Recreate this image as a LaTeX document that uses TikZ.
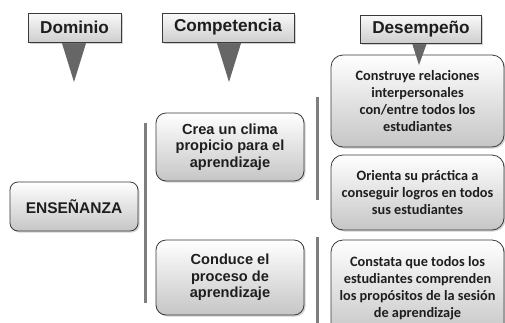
\documentclass[tikz,border=0pt]{standalone}
\usepackage{fontspec}
\setmainfont{Liberation Sans}
\newfontfamily\calib{Carlito}
\usetikzlibrary{shadows}
\definecolor{txt}{HTML}{1E1E1E}
\definecolor{edge}{HTML}{3A3A3A}
\definecolor{trifill}{HTML}{666666}
\definecolor{vline}{HTML}{7E7E7E}
\begin{document}
\begin{tikzpicture}[x=1pt,y=-1pt,
  shad/.style={drop shadow={shadow xshift=1.5pt,shadow yshift=-1.5pt,opacity=0.35}},
  hdr/.style={draw=edge, line width=0.8pt, top color=gray!4, bottom color=gray!38, shad,
    text=txt, inner sep=0pt, font=\bfseries\fontsize{17.2}{19}\selectfont},
  cbox/.style={draw=edge, line width=0.8pt, rounded corners=10pt, top color=white, bottom color=gray!45, shad,
    text=txt, align=center, inner sep=0pt, font=\bfseries\fontsize{14.6}{16.7}\selectfont},
  dbox/.style={draw=edge, line width=0.8pt, rounded corners=12pt, top color=white, bottom color=gray!45, shad,
    text=txt, align=center, inner sep=0pt, minimum width=173pt, font=\calib\bfseries\fontsize{14.3}{17.2}\selectfont},
  tri/.style={fill=trifill},
  vl/.style={draw=vline, line width=3pt}
]
\fill[white] (0,0) rectangle (505,322);
\path[use as bounding box] (0,0) rectangle (505,322);
\clip (0,0) rectangle (505,322);

% vertical bracket lines
\coordinate (l1a) at (145,123); \coordinate (l1b) at (145,303);
\coordinate (l2a) at (317,97);  \coordinate (l2b) at (317,200);
\coordinate (l3a) at (317,237); \coordinate (l3b) at (317,330);
\draw[vl] (l1a) -- (l1b);
\draw[vl] (l2a) -- (l2b);
\draw[vl] (l3a) -- (l3b);

% header triangles (below boxes)
\coordinate (domtip) at (74,82);
\coordinate (comptip) at (229,82);
\coordinate (destip) at (419,65);
\fill[tri] (61,40) -- (87,40) -- (domtip) -- cycle;
\fill[tri] (216,40) -- (242,40) -- (comptip) -- cycle;

% headers
\node[hdr, minimum width=93pt, minimum height=29pt] (dom) at (74.5,27.5) {Dominio};
\node[hdr, minimum width=132pt, minimum height=29pt] (comp) at (228,27.5) {Competencia};

% competence boxes
\node[cbox, minimum width=148pt, minimum height=68pt] (c1) at (230,147) {Crea un clima\\propicio para el\\aprendizaje};
\node[cbox, minimum width=148pt, minimum height=75pt] (c2) at (230,277.5) {Conduce el\\proceso de\\aprendizaje};
\node[cbox, rounded corners=8pt, minimum width=128pt, minimum height=49pt,
  font=\bfseries\fontsize{15.5}{18}\selectfont] (ens) at (74,206.5) {ENSEÑANZA};

% performance boxes
\node[dbox, minimum height=92pt] (d1) at (417.5,101) {Construye relaciones\\interpersonales\\con/entre todos los\\estudiantes};
\node[dbox, minimum height=75pt] (d2) at (417.5,192.5) {Orienta su práctica a\\conseguir logros en todos\\sus estudiantes};
\node[dbox, minimum height=96pt] (d3) at (417.5,288) {Constata que todos los\\estudiantes comprenden\\los propósitos de la sesión\\de aprendizaje};

% Desempeño header and its pointer (over the first box)
\fill[tri] (411,40) -- (428,40) -- (destip) -- cycle;
\node[hdr, minimum width=121pt, minimum height=28pt] (des) at (421,29) {Desempeño};
\end{tikzpicture}
\end{document}
